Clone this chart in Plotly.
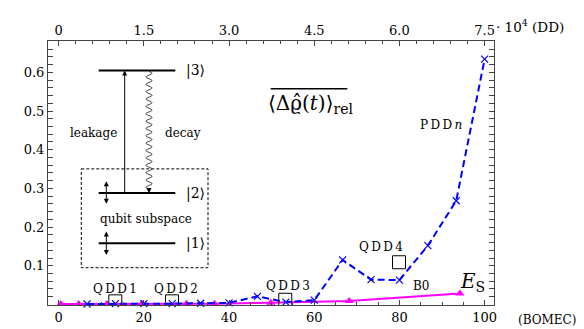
import numpy as np
import plotly.graph_objects as go

# ---------------- data ----------------
bomec_pdd = [6.67, 13.33, 20.0, 26.67, 33.33, 40.0, 46.67, 53.33, 60.0, 66.67, 73.33, 80.0, 86.67, 93.33, 100.0]
rho_pdd = [0.001, 0.002, 0.002, 0.002, 0.003, 0.004, 0.021, 0.006, 0.011, 0.115, 0.064, 0.063, 0.152, 0.268, 0.634]

bomec_es = [0.5, 4.7, 11.3, 19.5, 30.0, 36.6, 49.8, 68.2, 94.2]
rho_es = [0.001, 0.001, 0.001, 0.002, 0.002, 0.002, 0.004, 0.009, 0.028]

qdd_x = [13.3, 26.6, 53.2, 79.9]
qdd_y = [0.008, 0.008, 0.012, 0.109]
qdd_labels = ["QDD1", "QDD2", "QDD3", "QDD4"]

bottom_ticks = [0, 20, 40, 60, 80, 100]
top_tick_labels = ["0", "1.5", "3.0", "4.5", "6.0", "7.5"]
y_ticks = [0.1, 0.2, 0.3, 0.4, 0.5, 0.6]

# ---------------- layout geometry ----------------
XR = [-2.5, 102.2]
YR = [-0.0015, 0.681]
L, R, T, B = 40, 98, 33, 27
W, H = 584, 329
pw = W - L - R
ph = H - T - B


def X(px):
    return XR[0] + (px - L) / pw * (XR[1] - XR[0])


def Y(py):
    return YR[0] + (H - B - py) / ph * (YR[1] - YR[0])


def PX(px):
    return (px - L) / pw


def PY(py):
    return (H - B - py) / ph


SERIF = "DejaVu Serif"
fig = go.Figure()

fig.add_trace(go.Scatter(
    x=bomec_es, y=rho_es, mode="lines+markers",
    line=dict(color="#ff00ff", width=2),
    marker=dict(symbol="triangle-up", size=8, color="#ff00ff"),
    showlegend=False, cliponaxis=False))

fig.add_trace(go.Scatter(
    x=bomec_pdd, y=rho_pdd, mode="lines+markers",
    line=dict(color="#0000ff", width=2, dash="7px,4px"),
    marker=dict(symbol="x-thin", size=7, color="#0000ff",
                line=dict(color="#0000ff", width=1.2)),
    showlegend=False, cliponaxis=False))

fig.add_trace(go.Scatter(
    x=qdd_x, y=qdd_y, mode="markers",
    marker=dict(symbol="square-open", size=13, color="black",
                line=dict(color="black", width=1)),
    showlegend=False))

# hidden trace for top axis
fig.add_trace(go.Scatter(x=[XR[0]], y=[YR[0]], xaxis="x2", mode="markers",
                         marker=dict(opacity=0), showlegend=False, hoverinfo="skip"))

axis_common = dict(showline=True, linecolor="#444", linewidth=1,
                   ticks="inside", ticklen=5, tickcolor="#444",
                   showgrid=False, zeroline=False,
                   tickfont=dict(family=SERIF, size=13, color="black"))

fig.update_layout(
    width=W, height=H,
    margin=dict(l=L, r=R, t=T, b=B),
    plot_bgcolor="white", paper_bgcolor="white",
    font=dict(family=SERIF, color="black"),
    xaxis=dict(range=XR, tickvals=bottom_ticks,
               minor=dict(dtick=5, tick0=0, ticks="inside", ticklen=3, tickcolor="#444"),
               **axis_common),
    xaxis2=dict(range=XR, overlaying="x", side="top", anchor="y",
                tickvals=bottom_ticks, ticktext=top_tick_labels,
                minor=dict(dtick=4, tick0=0, ticks="inside", ticklen=3, tickcolor="#444"),
                **axis_common),
    yaxis=dict(range=YR, tickvals=y_ticks, mirror="allticks",
               minor=dict(dtick=0.02, tick0=0, ticks="inside", ticklen=3, tickcolor="#444"),
               **axis_common),
)

ann = []


def txt(px, py, text, size=12, xanchor="center", paper=False):
    ref = dict(x=PX(px), y=PY(py), xref="paper", yref="paper") if paper else \
        dict(x=X(px), y=Y(py), xref="x", yref="y")
    ann.append(dict(text=text, showarrow=False, xanchor=xanchor, yanchor="middle",
                    font=dict(family=SERIF, size=size, color="black"), **ref))


# axis extra labels
txt(486, 18, "· 10<sup>4</sup> (DD)", size=13.5, xanchor="left", paper=True)
txt(508, 317, "(BOMEC)", size=12, xanchor="left", paper=True)

# QDD labels
sp = "\u2009"
for lab, (px, py) in zip(qdd_labels, [(107, 286), (168, 286), (280, 283), (373, 243)]):
    txt(px, py, sp.join(lab), size=12)

txt(433, 119, "P" + sp + "D" + sp + "D" + sp + "<i>n</i>", size=12)
txt(413, 283, "B0", size=12)
txt(464, 279, "<i>E</i><sub>S</sub>", size=20)

# title quantity
txt(302, 97, "⟨Δϱ̂(<i>t</i>)⟩<sub>rel</sub>", size=20)

# inset text
txt(85, 127, "leakage", size=12)
txt(175, 127, "decay", size=12)
txt(138, 214, "qubit subspace", size=12)
txt(176, 63, "|3⟩", size=14, xanchor="left")
txt(176, 188, "|2⟩", size=14, xanchor="left")
txt(176, 239, "|1⟩", size=14, xanchor="left")

# arrows
ann.append(dict(x=X(116.7), y=Y(63), xref="x", yref="y", ax=0, ay=125, text="",
                showarrow=True, arrowhead=2, arrowsize=1, arrowwidth=1, arrowcolor="black"))
for y0, y1 in [(176, 200), (227, 252)]:
    ann.append(dict(x=X(98.3), y=Y(y0), xref="x", yref="y", ax=0, ay=y1 - y0, text="",
                    showarrow=True, arrowhead=2, arrowside="end+start", arrowsize=1,
                    arrowwidth=1, arrowcolor="black"))
ann.append(dict(x=X(141), y=Y(188), xref="x", yref="y", ax=0, ay=-5, text="",
                showarrow=True, arrowhead=2, arrowsize=1, arrowwidth=1, arrowcolor="black"))

fig.update_layout(annotations=ann)

shapes = []
for lv in [63, 188, 239]:
    shapes.append(dict(type="line", xref="x", yref="y", x0=X(90.7), x1=X(167.3),
                       y0=Y(lv), y1=Y(lv), line=dict(color="black", width=2)))
shapes.append(dict(type="rect", xref="x", yref="y", x0=X(73.3), x1=X(200),
                   y0=Y(163.3), y1=Y(264), line=dict(color="black", width=1, dash="3px,2px")))
shapes.append(dict(type="line", xref="x", yref="y", x0=X(262.7), x1=X(339.3),
                   y0=Y(81.7), y1=Y(81.7), line=dict(color="black", width=1.5)))
tt = np.linspace(64, 184, 400)
xx = 141 + 3.0 * np.sin((tt - 64) / 7.5 * 2 * np.pi)
path = "M " + " L ".join(f"{X(a):.4f},{Y(b):.5f}" for a, b in zip(xx, tt))
shapes.append(dict(type="path", xref="x", yref="y", path=path,
                   line=dict(color="black", width=0.8)))
fig.update_layout(shapes=shapes)

fig.write_html("out.html")
